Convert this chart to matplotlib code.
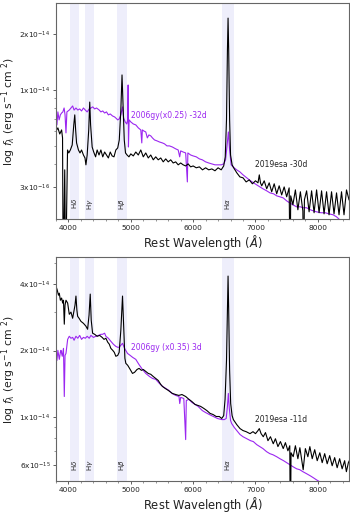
import numpy as np
import matplotlib.pyplot as plt
from matplotlib.ticker import FixedLocator, LogLocator, NullFormatter
from matplotlib.transforms import blended_transform_factory

# ********** Data (log10 flux) ******************************************
# top panel: 2019esa -30d
wave_esa_30 = [3800, 3830, 3860, 3890, 3905, 3915, 3940, 3955, 3985, 4005,
               4030, 4060, 4085, 4101, 4115, 4130, 4160, 4185, 4210, 4240,
               4265, 4280, 4300, 4325, 4341, 4355, 4380, 4405, 4435, 4460,
               4490, 4520, 4550, 4580, 4610, 4640, 4670, 4700, 4730, 4760,
               4790, 4815, 4840, 4859, 4875, 4895, 4915, 4940, 4970, 5000,
               5040, 5080, 5120, 5160, 5200, 5240, 5280, 5320, 5360, 5400,
               5440, 5480, 5520, 5560, 5600, 5640, 5680, 5720, 5760, 5800,
               5840, 5880, 5920, 5960, 6000, 6050, 6100, 6150, 6200, 6250,
               6300, 6350, 6400, 6450, 6490, 6515, 6535, 6550, 6560, 6570,
               6585, 6600, 6625, 6650, 6700, 6750, 6800, 6850, 6900, 6950,
               7000, 7040, 7061, 7080, 7100, 7140, 7180, 7220, 7260, 7300,
               7340, 7380, 7420, 7460, 7500, 7540, 7555, 7565, 7600, 7640,
               7680, 7720, 7760, 7770, 7785, 7820, 7860, 7900, 7940, 7980,
               8020, 8060, 8100, 8140, 8180, 8220, 8260, 8300, 8340, 8380,
               8420, 8460, 8500]
flux_esa_30 = [-14.221, -14.204, -14.237, -14.215, -14.258, -15.0, -14.430, -15.0, -14.323, -14.339,
               -14.323, -14.296, -14.188, -14.134, -14.215, -14.285, -14.323, -14.339, -14.323, -14.350,
               -14.366, -14.403, -14.350, -14.215, -14.065, -14.188, -14.307, -14.334, -14.360, -14.323,
               -14.350, -14.323, -14.360, -14.334, -14.350, -14.366, -14.334, -14.355, -14.360, -14.323,
               -14.312, -14.269, -14.108, -13.919, -14.081, -14.269, -14.339, -14.350, -14.360, -14.344,
               -14.355, -14.334, -14.350, -14.323, -14.360, -14.339, -14.366, -14.350, -14.376, -14.360,
               -14.376, -14.366, -14.387, -14.371, -14.387, -14.376, -14.393, -14.387, -14.403, -14.393,
               -14.403, -14.409, -14.398, -14.414, -14.409, -14.419, -14.414, -14.430, -14.419, -14.430,
               -14.425, -14.435, -14.419, -14.430, -14.409, -14.360, -14.161, -13.785, -13.613, -13.785,
               -14.161, -14.350, -14.403, -14.419, -14.446, -14.468, -14.473, -14.495, -14.484, -14.505,
               -14.489, -14.500, -14.457, -14.500, -14.516, -14.489, -14.532, -14.500, -14.548, -14.505,
               -14.559, -14.516, -14.565, -14.522, -14.575, -14.527, -15.0, -14.570, -14.618, -14.538,
               -14.645, -14.548, -14.651, -15.0, -14.591, -14.543, -14.656, -14.543, -14.661, -14.538,
               -14.661, -14.543, -14.667, -14.548, -14.672, -14.548, -14.667, -14.554, -14.672, -14.548,
               -14.672, -14.538, -14.591]

# top panel: 2006gy (x0.25) -32d
wave_gy_32 = [3800, 3815, 3830, 3850, 3870, 3890, 3910, 3930, 3945, 3960,
              3975, 4013, 4040, 4067, 4090, 4120, 4150, 4180, 4210, 4240,
              4270, 4300, 4333, 4360, 4390, 4420, 4450, 4493, 4520, 4550,
              4580, 4610, 4640, 4670, 4707, 4740, 4760, 4790, 4813, 4840,
              4867, 4885, 4910, 4935, 4950, 4957, 4962, 4973, 5000, 5040,
              5080, 5120, 5160, 5176, 5185, 5210, 5240, 5265, 5290, 5320,
              5347, 5380, 5420, 5460, 5507, 5540, 5580, 5620, 5667, 5720,
              5760, 5784, 5800, 5840, 5880, 5907, 5915, 5960, 6000, 6050,
              6100, 6147, 6200, 6250, 6300, 6350, 6400, 6450, 6490, 6520,
              6545, 6565, 6585, 6610, 6640, 6698, 6750, 6800, 6860, 6920,
              6970, 7020, 7072, 7120, 7180, 7232, 7290, 7340, 7390, 7445,
              7500, 7550, 7600, 7658, 7720, 7760, 7818, 7880, 7930, 7978,
              8050, 8120, 8180, 8245, 8300, 8352]
flux_gy_32 = [-14.145, -14.188, -14.118, -14.161, -14.134, -14.124, -14.118, -14.097, -14.134, -14.231,
              -14.118, -14.108, -14.097, -14.086, -14.108, -14.097, -14.108, -14.102, -14.113, -14.097,
              -14.108, -14.118, -14.102, -14.097, -14.091, -14.102, -14.097, -14.108, -14.118, -14.113,
              -14.124, -14.118, -14.134, -14.129, -14.140, -14.145, -14.151, -14.161, -14.156, -14.134,
              -14.091, -14.151, -14.172, -14.183, -14.161, -13.973, -14.307, -14.161, -14.172, -14.183,
              -14.188, -14.204, -14.215, -14.285, -14.215, -14.221, -14.226, -14.258, -14.242, -14.247,
              -14.258, -14.269, -14.274, -14.280, -14.285, -14.290, -14.301, -14.301, -14.307, -14.317,
              -14.323, -14.360, -14.328, -14.334, -14.339, -14.495, -14.339, -14.350, -14.355, -14.360,
              -14.371, -14.376, -14.387, -14.393, -14.398, -14.403, -14.403, -14.403, -14.398, -14.376,
              -14.296, -14.226, -14.323, -14.403, -14.414, -14.430, -14.441, -14.457, -14.473, -14.489,
              -14.500, -14.511, -14.522, -14.532, -14.543, -14.554, -14.559, -14.570, -14.575, -14.581,
              -14.597, -14.608, -14.618, -14.629, -14.629, -14.634, -14.634, -14.645, -14.651, -14.656,
              -14.661, -14.661, -14.667, -14.672, -14.683, -14.699]

# bottom panel: 2019esa -11d
wave_esa_11 = [3800, 3820, 3840, 3853, 3870, 3890, 3907, 3920, 3933, 3945,
               3960, 3987, 4013, 4040, 4067, 4090, 4105, 4120, 4135, 4147,
               4170, 4200, 4240, 4280, 4307, 4330, 4349, 4365, 4387, 4420,
               4460, 4500, 4540, 4570, 4600, 4630, 4655, 4680, 4710, 4735,
               4760, 4790, 4813, 4840, 4867, 4890, 4905, 4920, 4950, 4980,
               5027, 5060, 5100, 5133, 5170, 5200, 5240, 5280, 5320, 5360,
               5400, 5440, 5480, 5507, 5550, 5600, 5667, 5720, 5770, 5820,
               5880, 5933, 5980, 6030, 6080, 6120, 6170, 6220, 6272, 6320,
               6370, 6420, 6458, 6490, 6512, 6535, 6550, 6560, 6570, 6585,
               6602, 6625, 6645, 6700, 6752, 6800, 6850, 6912, 6960, 7000,
               7040, 7061, 7090, 7125, 7160, 7200, 7240, 7285, 7320, 7360,
               7400, 7445, 7480, 7520, 7550, 7560, 7570, 7605, 7640, 7680,
               7712, 7765, 7800, 7840, 7872, 7910, 7950, 7990, 8032, 8070,
               8110, 8150, 8190, 8230, 8270, 8310, 8350, 8390, 8430, 8458,
               8490, 8512]
flux_esa_11 = [-13.406, -13.424, -13.447, -13.438, -13.470, -13.460, -13.483, -13.470, -13.579, -13.492,
               -13.470, -13.483, -13.534, -13.524, -13.552, -13.515, -13.492, -13.451, -13.515, -13.543,
               -13.552, -13.566, -13.575, -13.588, -13.602, -13.538, -13.442, -13.561, -13.620, -13.625,
               -13.634, -13.630, -13.639, -13.648, -13.643, -13.661, -13.670, -13.689, -13.698, -13.707,
               -13.725, -13.721, -13.707, -13.607, -13.451, -13.630, -13.734, -13.757, -13.766, -13.780,
               -13.803, -13.798, -13.785, -13.780, -13.789, -13.785, -13.794, -13.803, -13.807, -13.817,
               -13.826, -13.835, -13.853, -13.862, -13.871, -13.880, -13.894, -13.899, -13.903, -13.899,
               -13.908, -13.921, -13.931, -13.944, -13.949, -13.953, -13.962, -13.972, -13.985, -13.990,
               -13.999, -13.999, -14.008, -13.995, -13.921, -13.744, -13.515, -13.360, -13.515, -13.789,
               -13.940, -13.995, -14.013, -14.036, -14.054, -14.063, -14.068, -14.077, -14.068, -14.077,
               -14.063, -14.054, -14.077, -14.091, -14.072, -14.109, -14.091, -14.123, -14.100, -14.136,
               -14.113, -14.145, -14.118, -14.155, -14.132, -14.600, -14.164, -14.182, -14.132, -14.191,
               -14.141, -14.241, -14.145, -14.182, -14.136, -14.191, -14.150, -14.200, -14.164, -14.209,
               -14.168, -14.214, -14.177, -14.223, -14.186, -14.232, -14.191, -14.237, -14.200, -14.250,
               -14.209, -14.196]

# bottom panel: 2006gy (x0.35) 3d
wave_gy_3 = [3800, 3815, 3830, 3853, 3870, 3880, 3900, 3920, 3933, 3945,
             3960, 3987, 4013, 4040, 4067, 4090, 4120, 4150, 4180, 4210,
             4240, 4270, 4300, 4333, 4360, 4400, 4440, 4480, 4520, 4547,
             4580, 4600, 4640, 4680, 4720, 4760, 4790, 4813, 4840, 4867,
             4900, 4947, 4990, 5030, 5080, 5130, 5187, 5240, 5300, 5350,
             5400, 5460, 5510, 5560, 5610, 5660, 5720, 5773, 5785, 5800,
             5850, 5880, 5890, 5933, 5980, 6030, 6080, 6147, 6200, 6260,
             6325, 6390, 6458, 6500, 6530, 6550, 6565, 6580, 6600, 6618,
             6660, 6700, 6752, 6800, 6860, 6920, 6965, 7020, 7070, 7120,
             7178, 7230, 7280, 7340, 7392, 7450, 7500, 7550, 7605, 7660,
             7710, 7760, 7818, 7880, 7930, 7978, 8030, 8085]
flux_gy_3 = [-13.712, -13.744, -13.698, -13.739, -13.707, -13.698, -13.725, -13.689, -13.908, -13.721,
             -13.712, -13.648, -13.634, -13.643, -13.639, -13.652, -13.634, -13.643, -13.630, -13.648,
             -13.639, -13.643, -13.634, -13.643, -13.630, -13.639, -13.634, -13.630, -13.625, -13.625,
             -13.620, -13.634, -13.643, -13.657, -13.670, -13.680, -13.684, -13.684, -13.675, -13.666,
             -13.689, -13.712, -13.721, -13.730, -13.739, -13.762, -13.785, -13.803, -13.817, -13.826,
             -13.830, -13.849, -13.862, -13.871, -13.880, -13.894, -13.903, -13.908, -13.940, -13.912,
             -13.917, -14.104, -13.926, -13.921, -13.935, -13.944, -13.953, -13.972, -13.981, -13.990,
             -13.999, -14.008, -14.013, -14.013, -14.008, -13.953, -13.894, -13.962, -14.017, -14.031,
             -14.049, -14.063, -14.081, -14.091, -14.100, -14.109, -14.113, -14.127, -14.136, -14.145,
             -14.159, -14.168, -14.173, -14.182, -14.191, -14.200, -14.209, -14.218, -14.228, -14.237,
             -14.241, -14.250, -14.259, -14.269, -14.278, -14.287, -14.296, -14.305]

# Balmer line windows (Angstrom) and their labels
line_names = [r'H$\delta$', r'H$\gamma$', r'H$\beta$', r'H$\alpha$']
line_lo = [4027, 4272, 4779, 6464]
line_hi = [4176, 4416, 4939, 6651]

# y ticks of each panel (tick value, printed label)
top_ticks = [2e-14, 1e-14, 3e-15]
top_labels = ['2x10$^{-14}$', '1x10$^{-14}$', '3x10$^{-16}$']
bot_ticks = [4e-14, 2e-14, 1e-14, 6e-15]
bot_labels = ['4x10$^{-14}$', '2x10$^{-14}$', '1x10$^{-14}$', '6x10$^{-15}$']

purple = '#9b27f0'
# ***********************************************************************


def setup_axis(ax, ylim, ticks, labels):
    ax.set_yscale('log')
    ax.set_xlim(3800, 8500)
    ax.set_ylim(ylim)
    ax.yaxis.set_major_locator(FixedLocator(ticks))
    ax.yaxis.set_minor_locator(LogLocator(subs=np.arange(2, 10)))
    ax.yaxis.set_minor_formatter(NullFormatter())
    ax.set_yticklabels(labels)
    ax.set_xticks([4000, 5000, 6000, 7000, 8000])
    ax.set_xticks(np.arange(3800, 8600, 200), minor=True)
    ax.tick_params(axis='both', which='major', labelsize=5.3, length=2.5,
                   width=0.6, colors='#444444', labelcolor='#222222', pad=1.5)
    ax.tick_params(axis='both', which='minor', length=1.3, width=0.4,
                   colors='#444444')
    for sp in ax.spines.values():
        sp.set_color('#666666')
        sp.set_linewidth(0.8)
    ax.set_xlabel(r'Rest Wavelength ($\AA$)', fontsize=8.3, color='#222222',
                  labelpad=2)
    ax.set_ylabel(r'log $f_\lambda$ (erg s$^{-1}$ cm $^{2}$)', fontsize=7.8,
                  color='#222222', labelpad=1)

    trans = blended_transform_factory(ax.transData, ax.transAxes)
    for name, lo, hi in zip(line_names, line_lo, line_hi):
        ax.axvspan(lo, hi, color='#eeeefb', zorder=0, lw=0)
        ax.text(0.5 * (lo + hi), 0.07, name, transform=trans, rotation=90,
                ha='center', va='center', fontsize=5, color='#222222')


def main():
    fig = plt.figure(figsize=(3.5, 5.13), dpi=100)
    ax1 = fig.add_axes([56 / 350, 1 - 219 / 513, 293 / 350, 216 / 513])
    ax2 = fig.add_axes([56 / 350, 1 - 481 / 513, 293 / 350, 224 / 513])

    setup_axis(ax1, (2.02e-15, 2.94e-14), top_ticks, top_labels)
    ax1.plot(wave_gy_32, 10 ** np.array(flux_gy_32), color=purple, lw=0.8)
    ax1.plot(wave_esa_30, 10 ** np.array(flux_esa_30), color='black', lw=0.8)
    ax1.text(5000, 10 ** -14.14, '2006gy(x0.25) -32d', color=purple,
             fontsize=5.5, va='center')
    ax1.text(7000, 10 ** -14.40, '2019esa -30d', color='#222222',
             fontsize=5.5, va='center')

    setup_axis(ax2, (5.1e-15, 5.33e-14), bot_ticks, bot_labels)
    ax2.plot(wave_gy_3, 10 ** np.array(flux_gy_3), color=purple, lw=0.8)
    ax2.plot(wave_esa_11, 10 ** np.array(flux_esa_11), color='black', lw=0.8)
    ax2.text(5000, 10 ** -13.683, '2006gy (x0.35) 3d', color=purple,
             fontsize=5.5, va='center')
    ax2.text(7000, 10 ** -14.013, '2019esa -11d', color='#222222',
             fontsize=5.5, va='center')

    fig.savefig('out.png', dpi=100)


if __name__ == '__main__':
    main()
